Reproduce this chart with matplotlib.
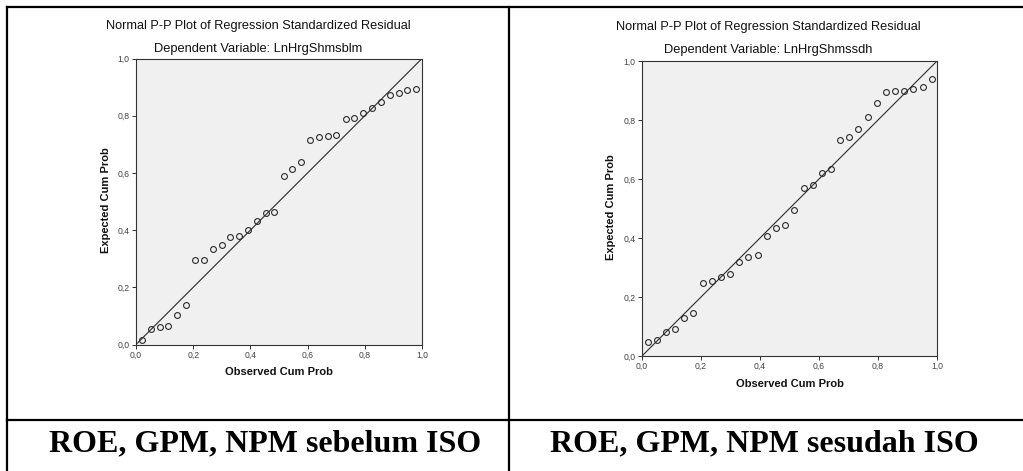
import matplotlib

matplotlib.use("Agg")

import matplotlib.pyplot as plt
from matplotlib.lines import Line2D

# -- data --------------------------------------------------------------------
OBS_BEFORE = [0.020, 0.051, 0.083, 0.113, 0.144, 0.175, 0.207, 0.237, 0.268, 0.299,
              0.329, 0.361, 0.392, 0.422, 0.454, 0.484, 0.516, 0.546, 0.578, 0.608,
              0.639, 0.671, 0.701, 0.733, 0.763, 0.795, 0.825, 0.856, 0.887, 0.918,
              0.949, 0.980]
EXP_BEFORE = [0.014, 0.053, 0.060, 0.065, 0.103, 0.138, 0.295, 0.296, 0.333, 0.349,
              0.376, 0.379, 0.399, 0.432, 0.461, 0.462, 0.588, 0.615, 0.639, 0.715,
              0.727, 0.729, 0.732, 0.790, 0.792, 0.811, 0.826, 0.849, 0.874, 0.879,
              0.889, 0.895]

OBS_AFTER = [0.019, 0.050, 0.080, 0.112, 0.142, 0.174, 0.206, 0.236, 0.267, 0.298,
             0.329, 0.360, 0.392, 0.423, 0.454, 0.485, 0.516, 0.548, 0.579, 0.609,
             0.641, 0.671, 0.703, 0.733, 0.765, 0.795, 0.827, 0.858, 0.889, 0.920,
             0.951, 0.982]
EXP_AFTER = [0.046, 0.055, 0.081, 0.090, 0.128, 0.146, 0.249, 0.253, 0.267, 0.278,
             0.317, 0.337, 0.343, 0.407, 0.433, 0.445, 0.495, 0.571, 0.578, 0.619,
             0.635, 0.733, 0.744, 0.771, 0.809, 0.859, 0.894, 0.897, 0.900, 0.904,
             0.913, 0.940]

TICKS = [0.0, 0.2, 0.4, 0.6, 0.8, 1.0]
TICK_LABELS = ["0,0", "0,2", "0,4", "0,6", "0,8", "1,0"]

TITLE = "Normal P-P Plot of Regression Standardized Residual"
SUBTITLES = ["Dependent Variable: LnHrgShmsblm", "Dependent Variable: LnHrgShmssdh"]
CAPTIONS = ["ROE, GPM, NPM sebelum ISO", "ROE, GPM, NPM sesudah ISO"]

# -- style -------------------------------------------------------------------
W, H = 1023, 471
PLOT_BG = "#f0f0f0"
INK = "#111111"
FRAME = "#333333"
SANS = "Liberation Sans"
SERIF = "Liberation Serif"


def px(x, y):
    """pixel position (top-left origin) -> figure fraction"""
    return x / W, 1 - y / H


fig = plt.figure(figsize=(W / 100, H / 100), dpi=100, facecolor="white")

# table grid (cropped on the right / bottom like the source)
for xs, ys in [
    ((7, 1023), (7, 7)),
    ((7, 7), (7, 471)),
    ((509, 509), (7, 471)),
    ((7, 1023), (420, 420)),
]:
    fx = [px(x, 0)[0] for x in xs]
    fy = [px(0, y)[1] for y in ys]
    fig.add_artist(Line2D(fx, fy, color="black", linewidth=1.6, transform=fig.transFigure))

# (left, top, size) of each plot area in pixels, plus label anchors
PANELS = [
    dict(box=(136, 58.5, 286), obs=OBS_BEFORE, exp=EXP_BEFORE, cx=258, ty=26, sy=49,
         ylab=(106, 200), xlab=(279, 372), cap=265),
    dict(box=(642, 61, 295), obs=OBS_AFTER, exp=EXP_AFTER, cx=768, ty=27, sy=50,
         ylab=(611, 207), xlab=(790, 384), cap=764),
]

for panel, subtitle, caption in zip(PANELS, SUBTITLES, CAPTIONS):
    left, top, size = panel["box"]
    ax = fig.add_axes([left / W, 1 - (top + size) / H, size / W, size / H])
    ax.set_facecolor(PLOT_BG)
    ax.set_xlim(0, 1)
    ax.set_ylim(0, 1)
    ax.plot([0, 1], [0, 1], color="#2b2b2b", linewidth=0.8, zorder=2)
    ax.plot(panel["obs"], panel["exp"], linestyle="none", marker="o", markersize=4.2,
            markerfacecolor="none", markeredgecolor="#2b2b2b", markeredgewidth=0.8,
            zorder=3, clip_on=False)
    for spine in ax.spines.values():
        spine.set_color(FRAME)
        spine.set_linewidth(0.8)
    ax.set_xticks(TICKS, TICK_LABELS)
    ax.set_yticks(TICKS, TICK_LABELS)
    ax.tick_params(direction="out", length=3, width=0.7, colors=FRAME, labelsize=6.2,
                   labelcolor="#444444", pad=1.5)
    for label in ax.get_xticklabels() + ax.get_yticklabels():
        label.set_family(SANS)

    fig.text(*px(panel["cx"], panel["ty"]), TITLE, ha="center", va="center",
             fontsize=9.2, family=SANS, color=INK)
    fig.text(*px(panel["cx"], panel["sy"]), subtitle, ha="center", va="center",
             fontsize=9.3, family=SANS, color=INK)
    fig.text(*px(*panel["ylab"]), "Expected Cum Prob", ha="center", va="center",
             rotation=90, fontsize=8.0, fontweight="bold", family=SANS, color=INK)
    fig.text(*px(*panel["xlab"]), "Observed Cum Prob", ha="center", va="center",
             fontsize=8.0, fontweight="bold", family=SANS, color=INK)
    fig.text(*px(panel["cap"], 451), caption, ha="center", va="baseline",
             fontsize=23.0, fontweight="bold", family=SERIF, color="black")

fig.savefig("out.png", dpi=100, facecolor="white")
